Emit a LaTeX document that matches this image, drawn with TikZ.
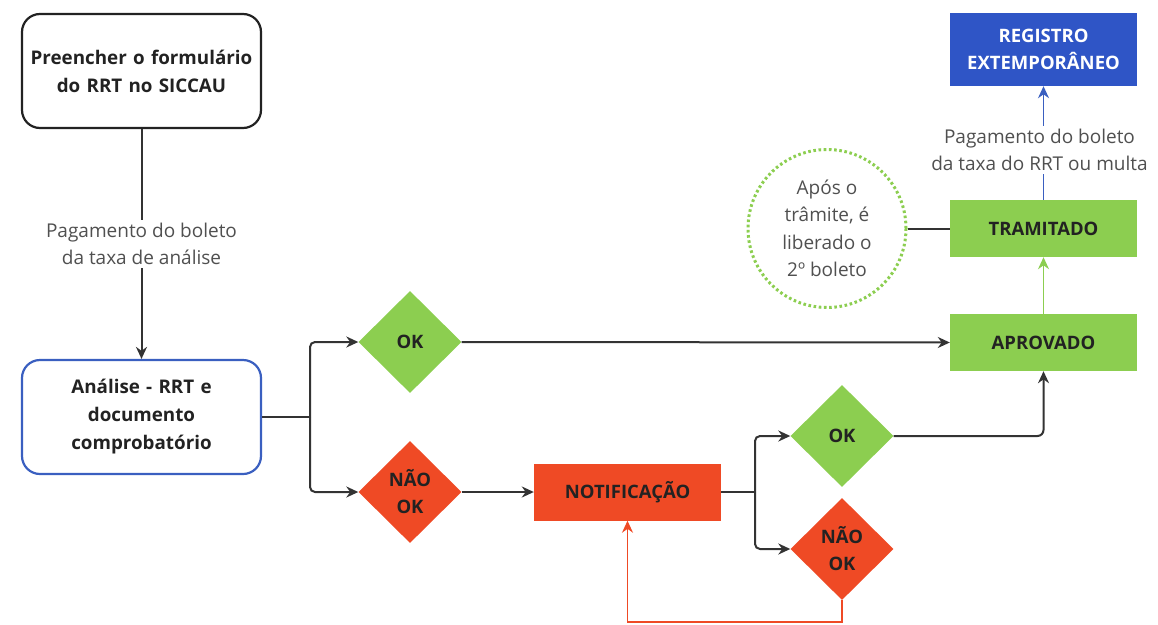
\documentclass[tikz,border=0pt]{standalone}
\usepackage{fontspec}
\setmainfont{Open Sans}
\usetikzlibrary{shapes.geometric,arrows.meta}
\definecolor{okgreen}{HTML}{8CCE50}
\definecolor{nored}{HTML}{EF4A25}
\definecolor{regblue}{HTML}{2F55C6}
\definecolor{edgeblue}{HTML}{3A5FC0}
\definecolor{ink}{HTML}{222222}
\definecolor{labelgray}{HTML}{505050}
\definecolor{wire}{HTML}{333333}
\tikzset{
  x=1pt, y=-1pt,
  roundbox/.style={draw, rounded corners=18pt, line width=2.2pt, minimum width=239pt,
    minimum height=114pt, align=center, text width=230pt, font=\bfseries\fontsize{18.8}{28}\selectfont, text=ink},
  flatbox/.style={rectangle, minimum width=187pt, minimum height=57pt, align=center,
    font=\bfseries\fontsize{18.5}{24}\selectfont, text=ink, inner sep=0pt},
  decision/.style={diamond, aspect=1, minimum width=103pt, minimum height=102pt, inner sep=0pt,
    align=center, font=\bfseries\fontsize{18.5}{27}\selectfont, text=ink},
  conn/.style={draw=wire, line width=2pt, -{Stealth[length=12pt,width=11pt]}},
  plain/.style={draw=wire, line width=2pt},
  note/.style={fill=white, text=labelgray, align=center, inner sep=3pt,
    font=\fontsize{19}{27}\selectfont},
}
\begin{document}
\begin{tikzpicture}
\useasboundingbox (0,0) rectangle (1158,624);

% process boxes
\node[roundbox, draw=ink] (fill) at (141.5,71) {Preencher o formulário\\do RRT no SICCAU};
\node[roundbox, draw=edgeblue] (anal) at (141.5,417) {Análise - RRT e\\documento\\comprobatório};

% decisions
\node[decision, fill=okgreen] (ok1) at (410,342) {OK};
\node[decision, fill=nored] (no1) at (410,492) {NÃO\\OK};
\node[decision, fill=okgreen] (ok2) at (842,436) {OK};
\node[decision, fill=nored] (no2) at (842,549) {NÃO\\OK};

% result boxes
\node[flatbox, fill=nored] (notif) at (627.5,492) {NOTIFICAÇÃO};
\node[flatbox, fill=okgreen] (aprov) at (1043.5,342.5) {APROVADO};
\node[flatbox, fill=okgreen] (tram) at (1043.5,228.5) {TRAMITADO};
\node[flatbox, fill=regblue, text=white, minimum height=73pt,
  font=\bfseries\fontsize{18.5}{27}\selectfont] (reg) at (1043.5,49.5) {REGISTRO\\EXTEMPORÂNEO};

% side note
\node[circle, draw=okgreen, line width=3pt, dash pattern=on 2.6pt off 2.6pt,
  minimum size=158pt, align=center, text=labelgray, inner sep=0pt,
  font=\fontsize{19}{27.5}\selectfont] (circ) at (827,228.5) {Após o\\trâmite, é\\liberado o\\2º boleto};

% branch points
\coordinate (f1) at (310,417);
\coordinate (f2) at (755,492);
\coordinate (bend) at (1043.5,436);
\coordinate (loopA) at (842,622);
\coordinate (loopB) at (627.5,622);

% connectors
\draw[conn] (fill.south) -- node[note, pos=0.5] {Pagamento do boleto\\da taxa de análise} (anal.north);
\draw[plain] (anal.east) -- (f1);
\draw[conn, rounded corners=5pt] (f1) |- (ok1.west);
\draw[conn, rounded corners=5pt] (f1) |- (no1.west);
\draw[conn] (ok1.east) -- (aprov.west);
\draw[conn] (no1.east) -- (notif.west);
\draw[plain] (notif.east) -- (f2);
\draw[conn, rounded corners=5pt] (f2) |- (ok2.west);
\draw[conn, rounded corners=5pt] (f2) |- (no2.west);
\draw[conn, rounded corners=6pt] (ok2.east) -- (bend) -- (aprov.south);
\draw[conn, draw=nored, line width=1.6pt] (no2.south) -- (loopA) -- (loopB) -- (notif.south);
\draw[conn, draw=okgreen, line width=1.6pt] (aprov.north) -- (tram.south);
\draw[plain] (circ.east) -- (tram.west);
\draw[conn, draw=edgeblue, line width=1.6pt] (tram.north) -- node[note, pos=0.44, xshift=-4pt] {Pagamento do boleto\\da taxa do RRT ou multa} (reg.south);
\end{tikzpicture}
\end{document}
